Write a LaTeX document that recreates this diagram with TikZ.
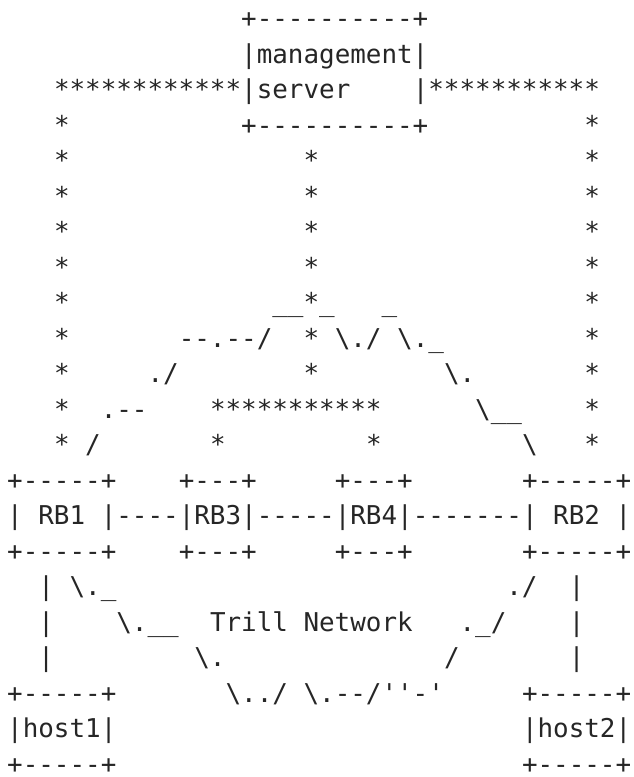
\documentclass[tikz,border=0pt]{standalone}
\usepackage{fontspec}
\newfontfamily\asciimono{DejaVu Sans Mono}[Ligatures=TeXOff]
\definecolor{inkgray}{HTML}{262626}
\tikzset{
  txt/.style={anchor=base west, inner sep=0pt, outer sep=0pt, text=inkgray,
              font=\asciimono\fontsize{25.9}{31}\selectfont}
}
% #1 name, #2 column, #3 row, #4 text
\newcommand{\seg}[4]{\node[txt] (#1) at ({7.2+15.6*#2},{-(27.5+35.5*#3)}) {#4};}
\newcommand{\bs}{\textbackslash}
\begin{document}
\begin{tikzpicture}[x=1pt,y=1pt]
\fill[white] (0,0) rectangle (633,-777);
\useasboundingbox (0,0) rectangle (633,-777);
% management server box
\seg{mstop}{15}{0}{+----------+}
\seg{msmid}{15}{1}{|management|}
\seg{msstarl}{3}{2}{************}
\seg{msbot}{15}{2}{|server}
\seg{msbar}{26}{2}{|}
\seg{msstarr}{27}{2}{***********}
\seg{sl3}{3}{3}{*}
\seg{msbase}{15}{3}{+----------+}
\seg{sr3}{37}{3}{*}
% star columns
\foreach \r in {4,5,6,7}{
  \seg{sl\r}{3}{\r}{*}
  \seg{sm\r}{19}{\r}{*}
  \seg{sr\r}{37}{\r}{*}
}
% row 8
\seg{sl8}{3}{8}{*}
\seg{c8a}{17}{8}{\_\_*\_}
\seg{c8b}{24}{8}{\_}
\seg{sr8}{37}{8}{*}
% row 9
\seg{sl9}{3}{9}{*}
\seg{c9a}{11}{9}{--.--/}
\seg{sm9}{19}{9}{*}
\seg{c9b}{21}{9}{\bs./}
\seg{c9c}{25}{9}{\bs.\_}
\seg{sr9}{37}{9}{*}
% row 10
\seg{sl10}{3}{10}{*}
\seg{c10a}{9}{10}{./}
\seg{sm10}{19}{10}{*}
\seg{c10b}{28}{10}{\bs.}
\seg{sr10}{37}{10}{*}
% row 11
\seg{sl11}{3}{11}{*}
\seg{c11a}{6}{11}{.--}
\seg{c11b}{13}{11}{***********}
\seg{c11c}{30}{11}{\bs\_\_}
\seg{sr11}{37}{11}{*}
% row 12
\seg{sl12}{3}{12}{*}
\seg{c12a}{5}{12}{/}
\seg{c12b}{13}{12}{*}
\seg{c12c}{23}{12}{*}
\seg{c12d}{33}{12}{\bs}
\seg{sr12}{37}{12}{*}
% RBridges
\seg{rb1t}{0}{13}{+-----+}
\seg{rb3t}{11}{13}{+---+}
\seg{rb4t}{21}{13}{+---+}
\seg{rb2t}{33}{13}{+-----+}
\seg{rb1}{0}{14}{| RB1 |}
\seg{l13}{7}{14}{----}
\seg{rb3}{11}{14}{|RB3|}
\seg{l34}{16}{14}{-----}
\seg{rb4}{21}{14}{|RB4|}
\seg{l42}{26}{14}{-------}
\seg{rb2}{33}{14}{| RB2 |}
\seg{rb1b}{0}{15}{+-----+}
\seg{rb3b}{11}{15}{+---+}
\seg{rb4b}{21}{15}{+---+}
\seg{rb2b}{33}{15}{+-----+}
% row 16
\seg{vl16}{2}{16}{|}
\seg{c16a}{4}{16}{\bs.\_}
\seg{c16b}{32}{16}{./}
\seg{vr16}{36}{16}{|}
% row 17
\seg{vl17}{2}{17}{|}
\seg{c17a}{7}{17}{\bs.\_\_}
\seg{trill}{13}{17}{Trill Network}
\seg{c17b}{29}{17}{.\_/}
\seg{vr17}{36}{17}{|}
% row 18
\seg{vl18}{2}{18}{|}
\seg{c18a}{12}{18}{\bs.}
\seg{c18b}{28}{18}{/}
\seg{vr18}{36}{18}{|}
% hosts
\seg{h1t}{0}{19}{+-----+}
\seg{c19a}{14}{19}{\bs../}
\seg{c19b}{19}{19}{\bs.--/''-'}
\seg{h2t}{33}{19}{+-----+}
\seg{h1}{0}{20}{|host1|}
\seg{h2}{33}{20}{|host2|}
\seg{h1b}{0}{21}{+-----+}
\seg{h2b}{33}{21}{+-----+}
\end{tikzpicture}
\end{document}
